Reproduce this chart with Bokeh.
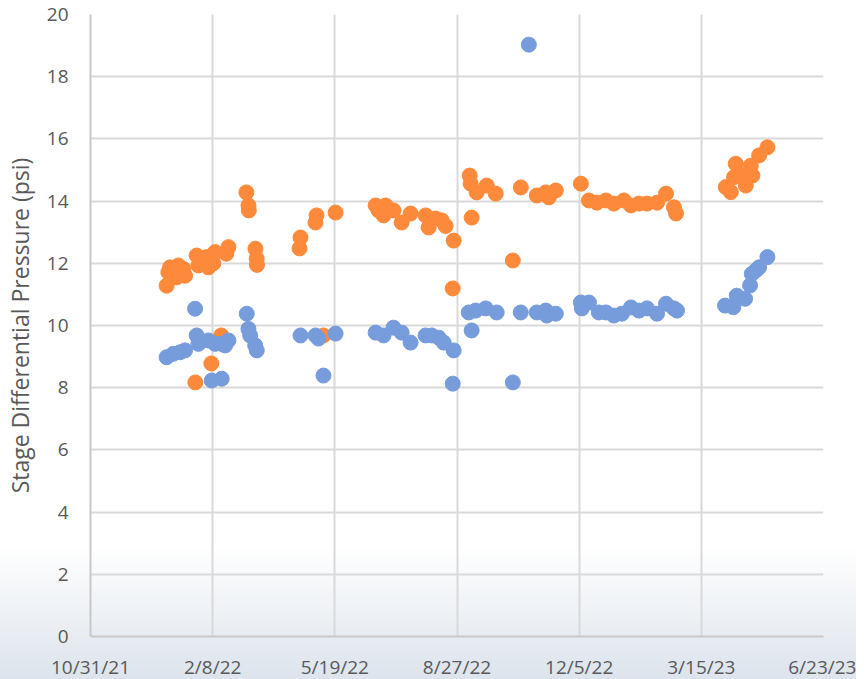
from bokeh.plotting import figure
from bokeh.models import FixedTicker, ColumnDataSource
from bokeh.embed import file_html
from bokeh.resources import INLINE

# x values: days since 10/31/21
x_tick_days = [0, 100, 200, 300, 400, 500, 600]
x_tick_labels = ["10/31/21", "2/8/22", "5/19/22", "8/27/22", "12/5/22", "3/15/23", "6/23/23"]
y_ticks = [0, 2, 4, 6, 8, 10, 12, 14, 16, 18, 20]

orange_days = [62.3, 63.7, 65.1, 67.8, 70.5, 71.9, 76.0, 77.4, 86.9, 88.3, 95.1, 96.5,
               100.6, 102.0, 111.2, 112.9, 127.6, 129.3, 129.6, 135.0, 136.0, 136.3,
               98.9, 85.8, 107.0,
               171.9, 171.1, 185.0, 184.2, 200.6, 233.4, 235.8, 241.6, 239.9, 248.0,
               254.7, 262.0, 274.3, 276.8, 282.5, 287.5, 290.7, 297.3, 296.5, 190.7,
               310.4, 311.2, 316.1, 324.3, 331.7, 312.0, 352.2, 365.3, 372.7, 375.2,
               380.9, 345.7,
               401.4, 408.0, 414.5, 421.9, 428.4, 436.6, 442.4, 448.9, 455.5, 463.7,
               471.1, 477.6, 479.3,
               520.0, 524.1, 528.2, 526.8, 533.6, 536.4, 540.5, 541.8, 547.3, 554.1]
orange_vals = [11.28, 11.71, 11.87, 11.75, 11.55, 11.93, 11.82, 11.60, 12.25, 11.93, 12.20, 11.87,
               12.00, 12.36, 12.31, 12.52, 14.28, 13.86, 13.70, 12.47, 12.15, 11.95,
               8.78, 8.17, 9.68,
               12.83, 12.48, 13.54, 13.31, 13.63, 13.86, 13.70, 13.86, 13.54, 13.70,
               13.31, 13.60, 13.54, 13.15, 13.44, 13.38, 13.20, 12.73, 11.19, 9.68,
               14.82, 14.56, 14.28, 14.50, 14.24, 13.47, 14.44, 14.18, 14.28, 14.12,
               14.34, 12.09,
               14.56, 14.02, 13.95, 14.02, 13.92, 14.02, 13.86, 13.92, 13.92, 13.95,
               14.24, 13.80, 13.60,
               14.45, 14.29, 15.20, 14.77, 14.82, 14.50, 15.14, 14.82, 15.47, 15.73]

blue_days = [85.6, 127.9, 129.3, 130.7, 134.8, 136.1, 62.3, 67.8, 73.3, 77.4,
             86.9, 88.3, 96.5, 102.0, 107.4, 112.9, 110.2, 99.2, 107.4,
             171.9, 184.2, 186.6, 200.6, 190.7, 233.4, 239.9, 248.0, 254.7, 262.0,
             274.3, 279.3, 285.0, 289.1, 297.3, 296.5,
             309.6, 315.3, 323.5, 332.5, 312.0, 352.2, 365.3, 372.7, 373.5, 380.9,
             345.7, 358.8,
             401.4, 402.2, 408.0, 416.1, 421.9, 428.4, 435.0, 442.4, 448.9, 455.5,
             463.7, 471.1, 477.6, 480.1,
             519.4, 526.2, 529.0, 535.8, 539.9, 541.3, 544.6, 547.3, 554.1]
blue_vals = [10.54, 10.38, 9.89, 9.68, 9.36, 9.20, 8.98, 9.09, 9.14, 9.20,
             9.68, 9.41, 9.52, 9.41, 9.41, 9.52, 9.36, 8.23, 8.29,
             9.68, 9.68, 9.58, 9.74, 8.39, 9.77, 9.68, 9.93, 9.77, 9.45,
             9.68, 9.68, 9.61, 9.45, 9.20, 8.13,
             10.42, 10.48, 10.55, 10.42, 9.84, 10.42, 10.42, 10.48, 10.32, 10.38,
             8.17, 19.03,
             10.74, 10.55, 10.74, 10.42, 10.42, 10.32, 10.38, 10.58, 10.48, 10.55,
             10.38, 10.70, 10.55, 10.48,
             10.64, 10.59, 10.96, 10.86, 11.29, 11.66, 11.77, 11.87, 12.20]

FONT = "Open Sans"
TXT = "#595959"

p = figure(frame_width=733, frame_height=622, x_range=(0, 600), y_range=(0, 20),
           output_backend="svg", toolbar_location=None,
           min_border_left=84, min_border_right=33, min_border_top=14, min_border_bottom=35)
p.background_fill_color = None
p.border_fill_color = None
p.outline_line_color = None
p.styles = {"background": "linear-gradient(to bottom, #ffffff 0%, #ffffff 80%, #dce3ec 100%)"}

p.xaxis.ticker = FixedTicker(ticks=x_tick_days)
p.xaxis.major_label_overrides = {d: l for d, l in zip(x_tick_days, x_tick_labels)}
p.yaxis.ticker = FixedTicker(ticks=y_ticks)

for ax in (p.xaxis, p.yaxis):
    ax.major_tick_line_color = None
    ax.minor_tick_line_color = None
    ax.axis_line_color = "#c8c8c8"
    ax.axis_line_width = 2
    ax.major_label_text_font = FONT
    ax.major_label_text_font_size = "19px"
    ax.major_label_text_color = TXT

p.xaxis.major_label_standoff = 11
p.yaxis.major_label_standoff = 16
p.yaxis.axis_label = "Stage Differential Pressure (psi)"
p.yaxis.axis_label_text_font = FONT
p.yaxis.axis_label_text_font_size = "23px"
p.yaxis.axis_label_text_font_style = "normal"
p.yaxis.axis_label_text_color = TXT
p.yaxis.axis_label_standoff = 8

p.xgrid.ticker = FixedTicker(ticks=x_tick_days)
p.ygrid.ticker = FixedTicker(ticks=y_ticks)
for g in (p.xgrid, p.ygrid):
    g.grid_line_color = "#d9d9d9"
    g.grid_line_width = 2

src_o = ColumnDataSource(dict(x=orange_days, y=orange_vals))
src_b = ColumnDataSource(dict(x=blue_days, y=blue_vals))
p.scatter("x", "y", source=src_o, size=15, fill_color="#FD8A3A", line_color="#FD8A3A")
p.scatter("x", "y", source=src_b, size=15, fill_color="#779CDC", line_color="#779CDC")

open("out.html", "w").write(file_html(p, INLINE))
